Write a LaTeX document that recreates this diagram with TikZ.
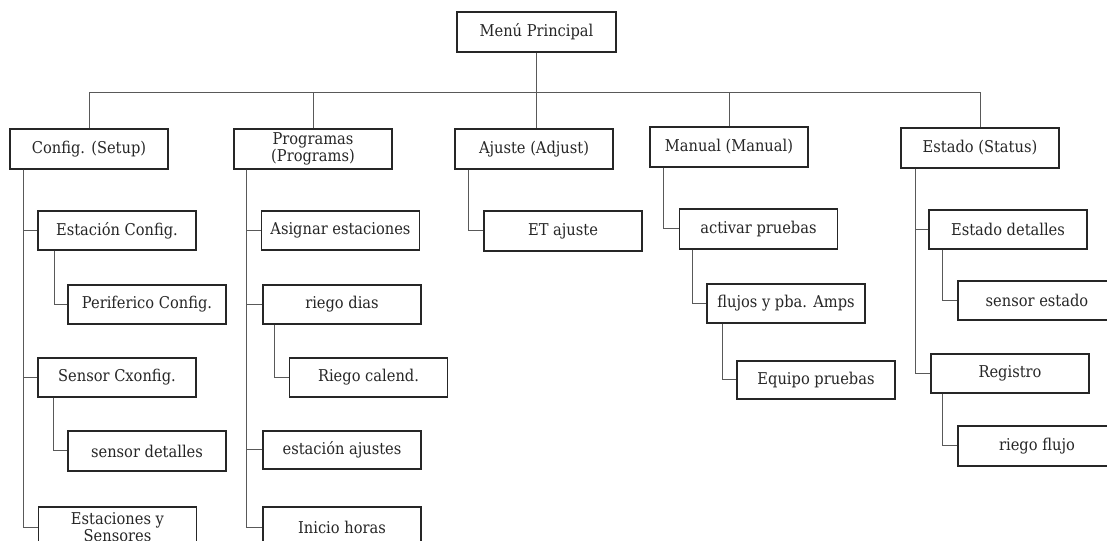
\documentclass[tikz,border=0pt]{standalone}
\usepackage{fontspec}
\setmainfont{DejaVu Serif}[FakeStretch=0.9]
\usetikzlibrary{calc}
\begin{document}
\begin{tikzpicture}[x=0.75pt,y=-0.75pt,
  box/.style={draw=black!85, line width=0.9pt, fill=white,
    minimum width=158*0.75pt, minimum height=39*0.75pt, inner sep=1pt,
    font=\fontsize{12.2}{12.4}\selectfont, align=center, text=black!85},
  link/.style={draw=black!65, line width=0.75pt}]
\useasboundingbox (0,0) rectangle (1107,541);
\clip (0,0) rectangle (1107,541);

% level 0 and 1
\node[box, minimum width=159*0.75pt, minimum height=40*0.75pt] (menu) at (536.5,32) {Menú Principal};
\node[box, minimum height=40*0.75pt] (config) at (89,149) {Config. (Setup)};
\node[box, minimum height=40*0.75pt] (prog) at (313,149) {Programas\\(Programs)};
\node[box, minimum height=40*0.75pt] (ajuste) at (534,149) {Ajuste (Adjust)};
\node[box, minimum height=40*0.75pt] (manual) at (729,147) {Manual (Manual)};
\node[box, minimum height=40*0.75pt] (estado) at (980,148) {Estado (Status)};

% column 1
\node[box] (estcfg) at (117,230.5) {Estación Config.};
\node[box] (perif) at (147,304.5) {Periferico Config.};
\node[box] (sencfg) at (117,377.5) {Sensor Cxonfig.};
\node[box, minimum height=40*0.75pt] (sendet) at (147,451) {sensor detalles};
\node[box, minimum height=40*0.75pt] (estsen) at (117.5,527) {Estaciones y\\Sensores};

% column 2
\node[box] (asig) at (340.5,230.5) {Asignar estaciones};
\node[box] (riegod) at (342,304.5) {riego dias};
\node[box] (riegoc) at (368.5,377.5) {Riego calend.};
\node[box, minimum height=38*0.75pt] (estaj) at (342,450) {estación ajustes};
\node[box, minimum height=40*0.75pt] (inicio) at (342,527) {Inicio horas};

% column 3
\node[box, minimum height=40*0.75pt] (etaj) at (563,231) {ET ajuste};

% column 4
\node[box, minimum height=40*0.75pt] (activ) at (758.5,229) {activar pruebas};
\node[box] (flujos) at (786,303.5) {flujos y pba. Amps};
\node[box, minimum height=38*0.75pt] (equipo) at (816,380) {Equipo pruebas};

% column 5
\node[box] (estdet) at (1008,229.5) {Estado detalles};
\node[box] (senest) at (1037,300.5) {sensor estado};
\node[box] (registro) at (1010,373.5) {Registro};
\node[box, minimum height=40*0.75pt] (riegof) at (1037,446) {riego flujo};

% top bus
\coordinate (bus) at ($(menu.south)+(0,39.5)$);
\draw[link] (menu.south) -- (menu.south |- ajuste.north);
\draw[link] (config.north) |- (bus) -| (estado.north);
\draw[link] (prog.north) -- (prog.north |- bus);
\draw[link] (manual.north) -- (manual.north |- bus);

% trunks
\coordinate (configT) at ($(config.south west)+(14,0)$);
\coordinate (progT) at ($(prog.south west)+(13,0)$);
\coordinate (ajusteT) at ($(ajuste.south west)+(14,0)$);
\coordinate (manualT) at ($(manual.south west)+(14,0)$);
\coordinate (estadoT) at ($(estado.south west)+(15,0)$);
\coordinate (estcfgT) at ($(estcfg.south west)+(17,0)$);
\coordinate (sencfgT) at ($(sencfg.south west)+(16,0)$);
\coordinate (riegodT) at ($(riegod.south west)+(12,0)$);
\coordinate (activT) at ($(activ.south west)+(14,0)$);
\coordinate (flujosT) at ($(flujos.south west)+(16,0)$);
\coordinate (estdetT) at ($(estdet.south west)+(14,0)$);
\coordinate (registroT) at ($(registro.south west)+(12,0)$);

\draw[link] (configT) |- (estcfg.west);
\draw[link] (configT) |- (sencfg.west);
\draw[link] (configT) |- (estsen.west);
\draw[link] (estcfgT) |- (perif.west);
\draw[link] (sencfgT) |- (sendet.west);

\draw[link] (progT) |- (asig.west);
\draw[link] (progT) |- (riegod.west);
\draw[link] (progT) |- (estaj.west);
\draw[link] (progT) |- (inicio.west);
\draw[link] (riegodT) |- (riegoc.west);

\draw[link] (ajusteT) |- (etaj.west);

\draw[link] (manualT) |- (activ.west);
\draw[link] (activT) |- (flujos.west);
\draw[link] (flujosT) |- (equipo.west);

\draw[link] (estadoT) |- (estdet.west);
\draw[link] (estadoT) |- (registro.west);
\draw[link] (estdetT) |- (senest.west);
\draw[link] (registroT) |- (riegof.west);
\end{tikzpicture}
\end{document}
